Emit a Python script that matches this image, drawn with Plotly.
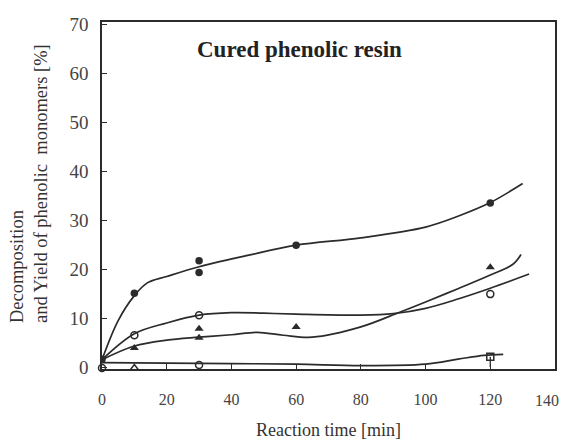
import plotly.graph_objects as go

# ---- data ----
# filled circles
fc_x = [0, 10, 30, 30, 60, 120]
fc_y = [1.6, 15.1, 21.7, 19.3, 24.9, 33.5]
fc_curve_x = [0, 5, 10, 14, 20, 30, 45, 60, 80, 100, 110, 120, 130]
fc_curve_y = [1.5, 9.5, 14.6, 17.2, 18.5, 20.5, 22.8, 24.9, 26.4, 28.6, 30.8, 33.6, 37.5]

# open circles
oc_x = [10, 30, 120]
oc_y = [6.5, 10.6, 14.9]
oc_curve_x = [0, 10, 20, 30, 40, 50, 60, 80, 90, 100, 110, 120, 132]
oc_curve_y = [1.5, 6.8, 9.0, 10.6, 11.1, 11.0, 10.8, 10.6, 10.9, 12.0, 13.9, 16.1, 19.0]

# filled triangles
ft_x = [10, 30, 30, 60, 120]
ft_y = [3.9, 7.8, 6.0, 8.2, 20.4]
ft_curve_x = [0, 10, 20, 30, 40, 48, 56, 65, 80, 92, 100, 110, 120, 127, 129.5]
ft_curve_y = [1.5, 4.3, 5.5, 6.1, 6.6, 7.1, 6.5, 6.1, 8.2, 11.2, 13.3, 16.0, 18.8, 21.0, 23.0]

# open markers near the baseline
ob_x = [0, 10, 30]
ob_y = [-0.2, -0.2, 0.4]
ob_sym = ["circle-open", "triangle-up-open", "circle-open"]
os_x = [120]
os_y = [2.1]
ob_curve_x = [0, 20, 40, 60, 80, 100, 110, 118, 124]
ob_curve_y = [0.9, 0.8, 0.7, 0.6, 0.3, 0.6, 1.6, 2.4, 2.6]

x_ticks = [0, 20, 40, 60, 80, 100, 120, 140]
x_ticktext = ["0", "20", "40", "60", "80", "100", "120", ""]
x_last_label = "140"
y_ticks = [0, 10, 20, 30, 40, 50, 60, 70]

LINE = "#2b2b2b"
FONT = "Liberation Serif"

fig = go.Figure()

for cx, cy in [(fc_curve_x, fc_curve_y), (oc_curve_x, oc_curve_y),
               (ft_curve_x, ft_curve_y), (ob_curve_x, ob_curve_y)]:
    fig.add_trace(go.Scatter(x=cx, y=cy, mode="lines",
                             line=dict(color=LINE, width=1.7, shape="spline", smoothing=1.0),
                             hoverinfo="skip", showlegend=False, cliponaxis=False))

fig.add_trace(go.Scatter(x=fc_x, y=fc_y, mode="markers",
                         marker=dict(symbol="circle", size=7.5, color=LINE),
                         showlegend=False))
fig.add_trace(go.Scatter(x=oc_x, y=oc_y, mode="markers",
                         marker=dict(symbol="circle-open", size=7, color=LINE,
                                     line=dict(width=1.5)),
                         showlegend=False))
fig.add_trace(go.Scatter(x=ft_x, y=ft_y, mode="markers",
                         marker=dict(symbol="triangle-up", size=8, color=LINE),
                         showlegend=False))
fig.add_trace(go.Scatter(x=ob_x, y=ob_y, mode="markers",
                         marker=dict(symbol=ob_sym, size=7, color=LINE,
                                     line=dict(width=1.5)),
                         showlegend=False, cliponaxis=False))
fig.add_trace(go.Scatter(x=os_x, y=os_y, mode="markers",
                         marker=dict(symbol="square-open", size=7, color=LINE,
                                     line=dict(width=1.5)),
                         error_y=dict(type="data", symmetric=False, array=[0],
                                      arrayminus=[2.1], width=0, color=LINE, thickness=1.3),
                         showlegend=False))

fig.add_annotation(text="<b>Cured phenolic resin</b>", x=60.9, y=64.9, xref="x", yref="y",
                   showarrow=False, font=dict(family=FONT, size=23, color="#222"))

fig.add_annotation(text="Decomposition<br>and Yield of phenolic  monomers [%]",
                   x=(21 - 94) / 453, y=0.533, xref="paper", yref="paper",
                   textangle=-90, showarrow=False, xanchor="center", yanchor="middle",
                   align="left",
                   font=dict(family=FONT, size=18.5, color="#333"))

# last x tick label, kept inside the visible page
fig.add_annotation(text=x_last_label, x=(553 - 94) / 453, y=0, xref="paper", yref="paper",
                   xanchor="right", yanchor="top", yshift=-21, showarrow=False,
                   font=dict(family=FONT, size=16, color="#444"))

fig.update_layout(
    width=560, height=433,
    margin=dict(l=94, r=13, t=14, b=72, autoexpand=False),
    plot_bgcolor="white", paper_bgcolor="white",
    font=dict(family=FONT, color="#333"),
    xaxis=dict(range=[0, 140], tickvals=x_ticks, ticktext=x_ticktext,
               ticks="inside", ticklen=5,
               tickcolor=LINE, showline=True, linecolor=LINE, linewidth=1.5,
               mirror=True, showgrid=False, zeroline=False, automargin=False,
               tickfont=dict(family=FONT, size=16, color="#444"),
               ticklabelstandoff=15,
               title=dict(text="Reaction time [min]", font=dict(family=FONT, size=18, color="#333"),
                          standoff=16)),
    yaxis=dict(range=[-0.4, 70.5], tickvals=y_ticks, ticks="inside", ticklen=5,
               tickcolor=LINE, showline=True, linecolor=LINE, linewidth=1.5,
               mirror=True, showgrid=False, zeroline=False, automargin=False,
               tickfont=dict(family=FONT, size=19, color="#444"),
               ticklabelstandoff=8),
)

fig.write_html("out.html")
